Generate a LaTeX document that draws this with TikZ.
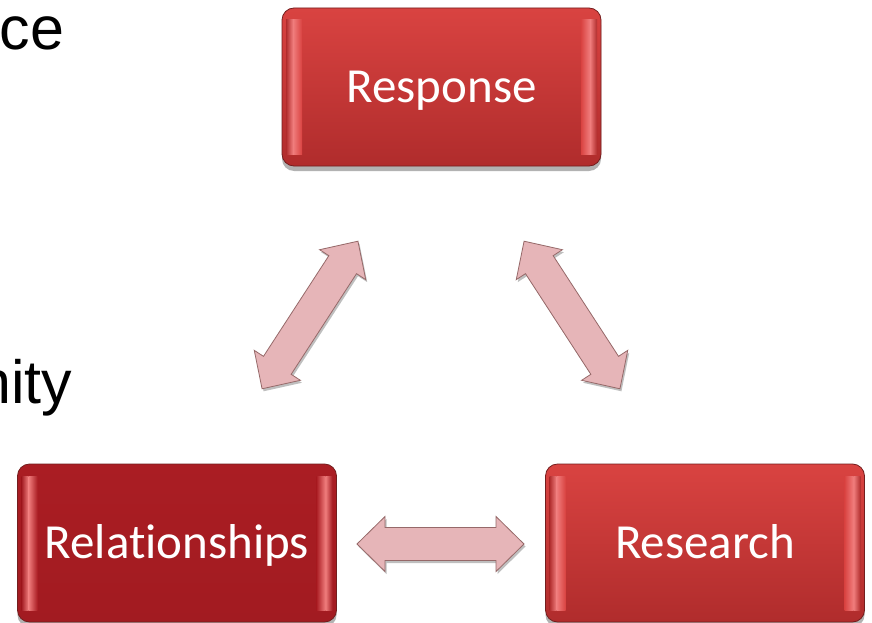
\documentclass[tikz,border=0pt]{standalone}
\usepackage{fontspec}
\setmainfont{Liberation Sans}
\newfontfamily\boxfont[Ligatures={NoCommon}]{Carlito}
\usetikzlibrary{shadows,calc}
\definecolor{faceA}{RGB}{217,67,65}
\definecolor{faceB}{RGB}{176,44,44}
\definecolor{relA}{RGB}{170,29,35}
\definecolor{relB}{RGB}{162,27,33}
\definecolor{bevpink}{RGB}{240,125,125}
\definecolor{boxedge}{RGB}{115,30,30}
\definecolor{arrowfill}{RGB}{230,181,184}
\definecolor{arrowedge}{RGB}{150,105,105}
\tikzset{
  bevelbox/.style 2 args={
    rounded corners=12pt, minimum width=319pt, minimum height=158pt, inner sep=0pt,
    text height=31.5pt, text depth=0pt,
    draw=boxedge, line width=0.8pt,
    top color=#1, bottom color=#2,
    text=white, font=\boxfont\fontsize{49}{58}\selectfont,
    drop shadow={opacity=0.3, shadow xshift=0pt, shadow yshift=-5pt, fill=black},
    path picture={
      \coordinate (pnw) at (path picture bounding box.north west);
      \coordinate (pse) at (path picture bounding box.south east);
      \shade[sharp corners, draw=none, left color=#2, right color=bevpink]
        ($(pnw)+(4,12)$) rectangle ($(pnw|-pse)+(11,-12)$);
      \shade[sharp corners, draw=none, left color=bevpink, right color=#1]
        ($(pnw)+(11,12)$) rectangle ($(pnw|-pse)+(20,-12)$);
      \shade[sharp corners, draw=none, left color=bevpink, right color=#2]
        ($(pse|-pnw)+(-11,12)$) rectangle ($(pse)+(-4,-12)$);
      \shade[sharp corners, draw=none, left color=#1, right color=bevpink]
        ($(pse|-pnw)+(-20,12)$) rectangle ($(pse)+(-11,-12)$);
    }
  },
  blockarrowstyle/.style={fill=arrowfill, draw=arrowedge, line width=0.8pt, line join=miter,
    drop shadow={opacity=0.25, shadow xshift=1.5pt, shadow yshift=-2.5pt, fill=black}},
  sidetext/.style={anchor=base east, inner sep=0pt, font=\fontsize{61}{70}\selectfont, text=black}
}
\newcommand\blockarrow[3]{%
  \begin{scope}[shift={#1}, rotate=#2]
    \filldraw[blockarrowstyle]
      ({-#3/2},0) -- ({-#3/2+28},-27.5) -- ({-#3/2+28},-16.5) -- ({#3/2-28},-16.5)
      -- ({#3/2-28},-27.5) -- ({#3/2},0) -- ({#3/2-28},27.5) -- ({#3/2-28},16.5)
      -- ({-#3/2+28},16.5) -- ({-#3/2+28},27.5) -- cycle;
  \end{scope}}
\begin{document}
\begin{tikzpicture}[x=1pt,y=-1pt]
  \useasboundingbox (0,0) rectangle (872,623);
  \clip (0,0) rectangle (872,623);
  \fill[white] (0,0) rectangle (872,623);

  % side texts (cut by the left edge, as in the reference)
  \node[sidetext] (ce) at (64.5,50) {ce};
  \node[sidetext] (nity) at (72.5,403) {nity};

  % boxes
  \node[bevelbox={faceA}{faceB}] (resp) at (441.5,87) {Response};
  \node[bevelbox={relA}{relB}] (rel) at (177,543) {Relationships};
  \node[bevelbox={faceA}{faceB}] (res) at (705,543) {Research};

  % block arrows
  \coordinate (larrow) at (310,315);
  \coordinate (rarrow) at (572,315);
  \coordinate (barrow) at (440.5,544);
  \blockarrow{(larrow)}{57}{176}
  \blockarrow{(rarrow)}{-57}{176}
  \blockarrow{(barrow)}{0}{167}
\end{tikzpicture}
\end{document}
